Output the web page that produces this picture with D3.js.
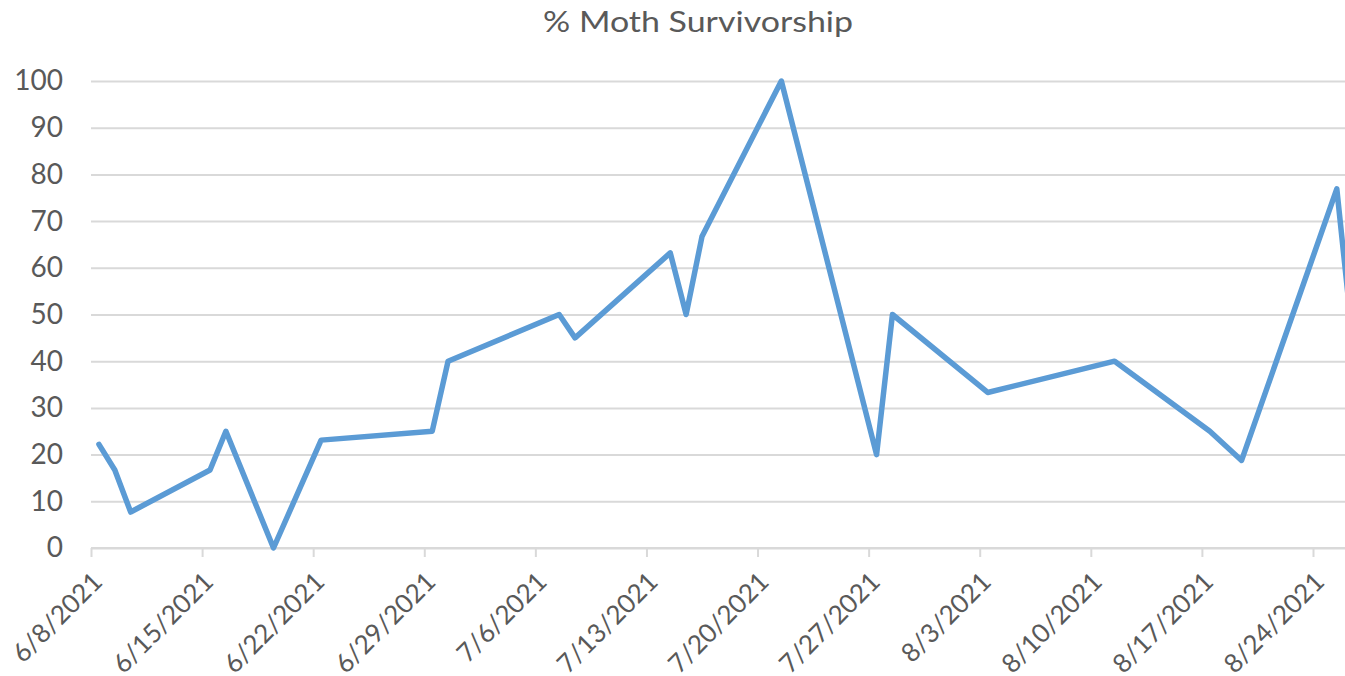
<!DOCTYPE html>
<html>
<head>
<meta charset="utf-8">
<script src="https://cdn.jsdelivr.net/npm/d3@7"></script>
<style>
	body { margin: 0; background: #fff; }
	svg { display: block; font-family: Lato, "Open Sans", sans-serif; }
</style>
</head>
<body>
<svg id="chart" width="1345" height="676"></svg>
<script>
// sample dates (m/d in 2021) and % survivorship
const dates = ["6/8", "6/9", "6/10", "6/15", "6/16", "6/19", "6/22", "6/29", "6/30",
	"7/7", "7/8", "7/14", "7/15", "7/16", "7/21", "7/27", "7/28",
	"8/3", "8/11", "8/17", "8/19", "8/25", "8/26"];
const values = [22.2, 16.7, 7.7, 16.7, 25, 0, 23.1, 25, 40,
	50, 45, 63.2, 50, 66.7, 100, 20, 50,
	33.3, 40, 25, 18.75, 76.9, 44.5];
const tickDates = ["6/8", "6/15", "6/22", "6/29", "7/6", "7/13", "7/20",
	"7/27", "8/3", "8/10", "8/17", "8/24"];
const yTicks = [0, 10, 20, 30, 40, 50, 60, 70, 80, 90, 100];

function toDate(s) {
	const p = s.split("/");
	return new Date(Date.UTC(2021, +p[0] - 1, +p[1]));
}

const rows = dates.map(function (d, i) {
	return { date: toDate(d), value: values[i] };
});

var svg = d3.select("#chart"),
	totalWidth = +svg.attr("width"),
	totalHeight = +svg.attr("height");

var plotLeft = 91,
	plotTop = 81,
	plotBottom = 548;

// weekly ticks are ~111px apart
var xScale = d3.scaleUtc()
	.domain([toDate("6/8"), toDate("8/24")])
	.range([plotLeft, 1313]);

var yScale = d3.scaleLinear().domain([0, 100]).range([plotBottom, plotTop]);

var textColor = "#595959";
var gridColor = "#d9d9d9";

// title
svg.append("text")
	.attr("x", 698)
	.attr("y", 32)
	.attr("text-anchor", "middle")
	.attr("font-size", "28px")
	.attr("fill", textColor)
	.attr("textLength", 310)
	.attr("lengthAdjust", "spacingAndGlyphs")
	.text("% Moth Survivorship");

// gridlines + y labels
var yAxis = d3.axisLeft(yScale)
	.tickValues(yTicks)
	.tickSize(-(totalWidth - plotLeft + 20))
	.tickPadding(28);

svg.append("g")
	.attr("transform", "translate(" + plotLeft + ",0)")
	.call(yAxis)
	.call(function (g) {
		g.select(".domain").remove();
		g.selectAll(".tick line").attr("stroke", gridColor).attr("stroke-width", 2);
		g.selectAll(".tick text")
			.attr("fill", textColor)
			.attr("font-size", "28px")
			.attr("font-family", "Lato, sans-serif");
	});

// x axis with rotated date labels
var xAxis = d3.axisBottom(xScale)
	.tickValues(tickDates.map(toDate))
	.tickSize(9)
	.tickFormat(d3.utcFormat("%-m/%-d/%Y"));

svg.append("g")
	.attr("transform", "translate(0," + plotBottom + ")")
	.call(xAxis)
	.call(function (g) {
		g.select(".domain").attr("stroke", gridColor).attr("stroke-width", 2)
			.attr("d", "M" + plotLeft + ",0H" + (totalWidth + 20));
		g.selectAll(".tick line").attr("stroke", gridColor).attr("stroke-width", 2);
		g.selectAll(".tick text")
			.attr("fill", textColor)
			.attr("font-size", "26px")
			.attr("font-family", "Lato, sans-serif")
			.attr("text-anchor", "end")
			.attr("dy", "0.35em")
			.attr("y", 0)
			.attr("transform", "translate(6,29) rotate(-45)");
	});

// points sit in the middle of each day
var line = d3.line()
	.x(function (d) { return xScale(d3.utcHour.offset(d.date, 12)); })
	.y(function (d) { return yScale(d.value); });

svg.append("path")
	.datum(rows)
	.attr("fill", "none")
	.attr("stroke", "#5b9bd5")
	.attr("stroke-width", 5.5)
	.attr("stroke-linejoin", "round")
	.attr("stroke-linecap", "round")
	.attr("d", line);
</script>
</body>
</html>
